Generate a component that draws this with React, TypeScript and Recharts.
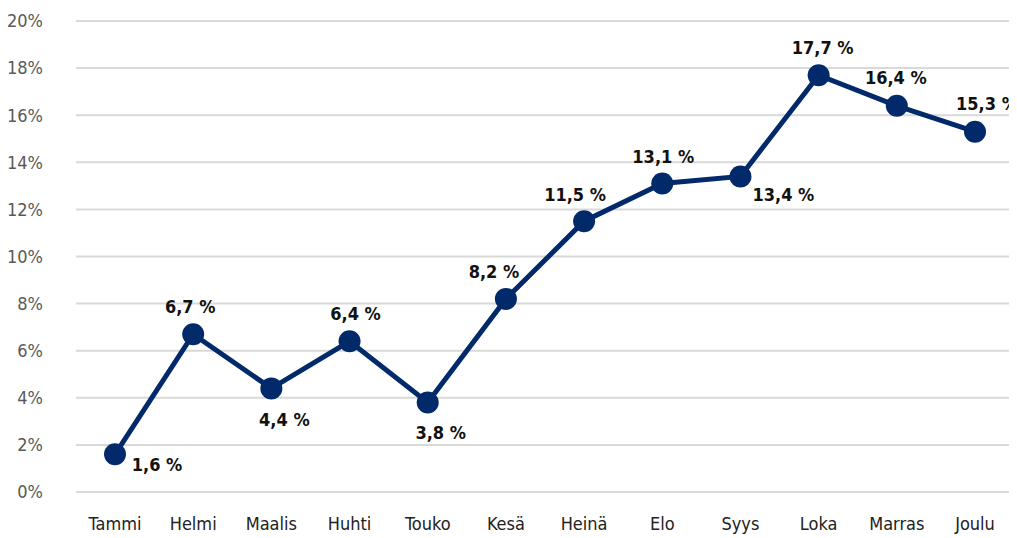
import { LineChart, Line, XAxis, YAxis, CartesianGrid, LabelList } from 'recharts';

const months = ['Tammi', 'Helmi', 'Maalis', 'Huhti', 'Touko', 'Kesä', 'Heinä', 'Elo', 'Syys', 'Loka', 'Marras', 'Joulu'];
const growth = [1.6, 6.7, 4.4, 6.4, 3.8, 8.2, 11.5, 13.1, 13.4, 17.7, 16.4, 15.3];
const yTicks = [0, 2, 4, 6, 8, 10, 12, 14, 16, 18, 20];

// where each value label sits relative to its point
const labelOffsets = [
  [42, 10], [-3, -28], [13, 31], [6, -28], [13, 30], [-12, -27],
  [-9, -27], [1, -27], [43, 18], [4, -28], [-1, -28], [12, -28],
];

const data = months.map((m, i) => ({ month: m, value: growth[i] }));

const font = "'DejaVu Sans Condensed', 'DejaVu Sans', sans-serif";
const condensed = { fontStretch: 'condensed' as const };

const fmt = (v: number) => `${v.toFixed(1).replace('.', ',')} %`;

const ValueLabel = (props: any) => {
  const { x, y, index, value } = props;
  const [dx, dy] = labelOffsets[index] || [0, -28];
  return (
    <text
      x={x + dx}
      y={y + dy}
      textAnchor="middle"
      dominantBaseline="central"
      fontFamily={font}
      fontWeight="bold"
      fontSize={18}
      fill="#111"
      style={condensed}
    >
      {fmt(value)}
    </text>
  );
};

const App = () => {
  return (
    <div style={{ width: 1009, height: 530 }}>
      <LineChart
        width={1009}
        height={530}
        data={data}
        margin={{ top: 13, right: 3, left: 0, bottom: 6 }}
      >
        <CartesianGrid vertical={false} stroke="#d9d9d9" strokeWidth={2} />
        <XAxis
          dataKey="month"
          axisLine={false}
          tickLine={false}
          tickSize={0}
          tickMargin={25}
          height={40}
          interval={0}
          padding={{ left: 39, right: 39 }}
          tick={{ fill: '#222', fontSize: 18, fontFamily: font, style: condensed }}
        />
        <YAxis
          domain={[0, 20]}
          ticks={yTicks}
          axisLine={false}
          tickLine={false}
          tickSize={0}
          tickMargin={33}
          width={68}
          tickFormatter={(v) => `${v}%`}
          tick={{ fill: '#595959', fontSize: 18, fontFamily: font, style: condensed }}
        />
        <Line
          type="linear"
          dataKey="value"
          stroke="#022a6b"
          strokeWidth={5}
          dot={{ r: 11, fill: '#022a6b', stroke: '#022a6b', strokeWidth: 0 }}
          activeDot={false}
          isAnimationActive={false}
        >
          <LabelList dataKey="value" content={ValueLabel} />
        </Line>
      </LineChart>
    </div>
  );
};

export default App;
